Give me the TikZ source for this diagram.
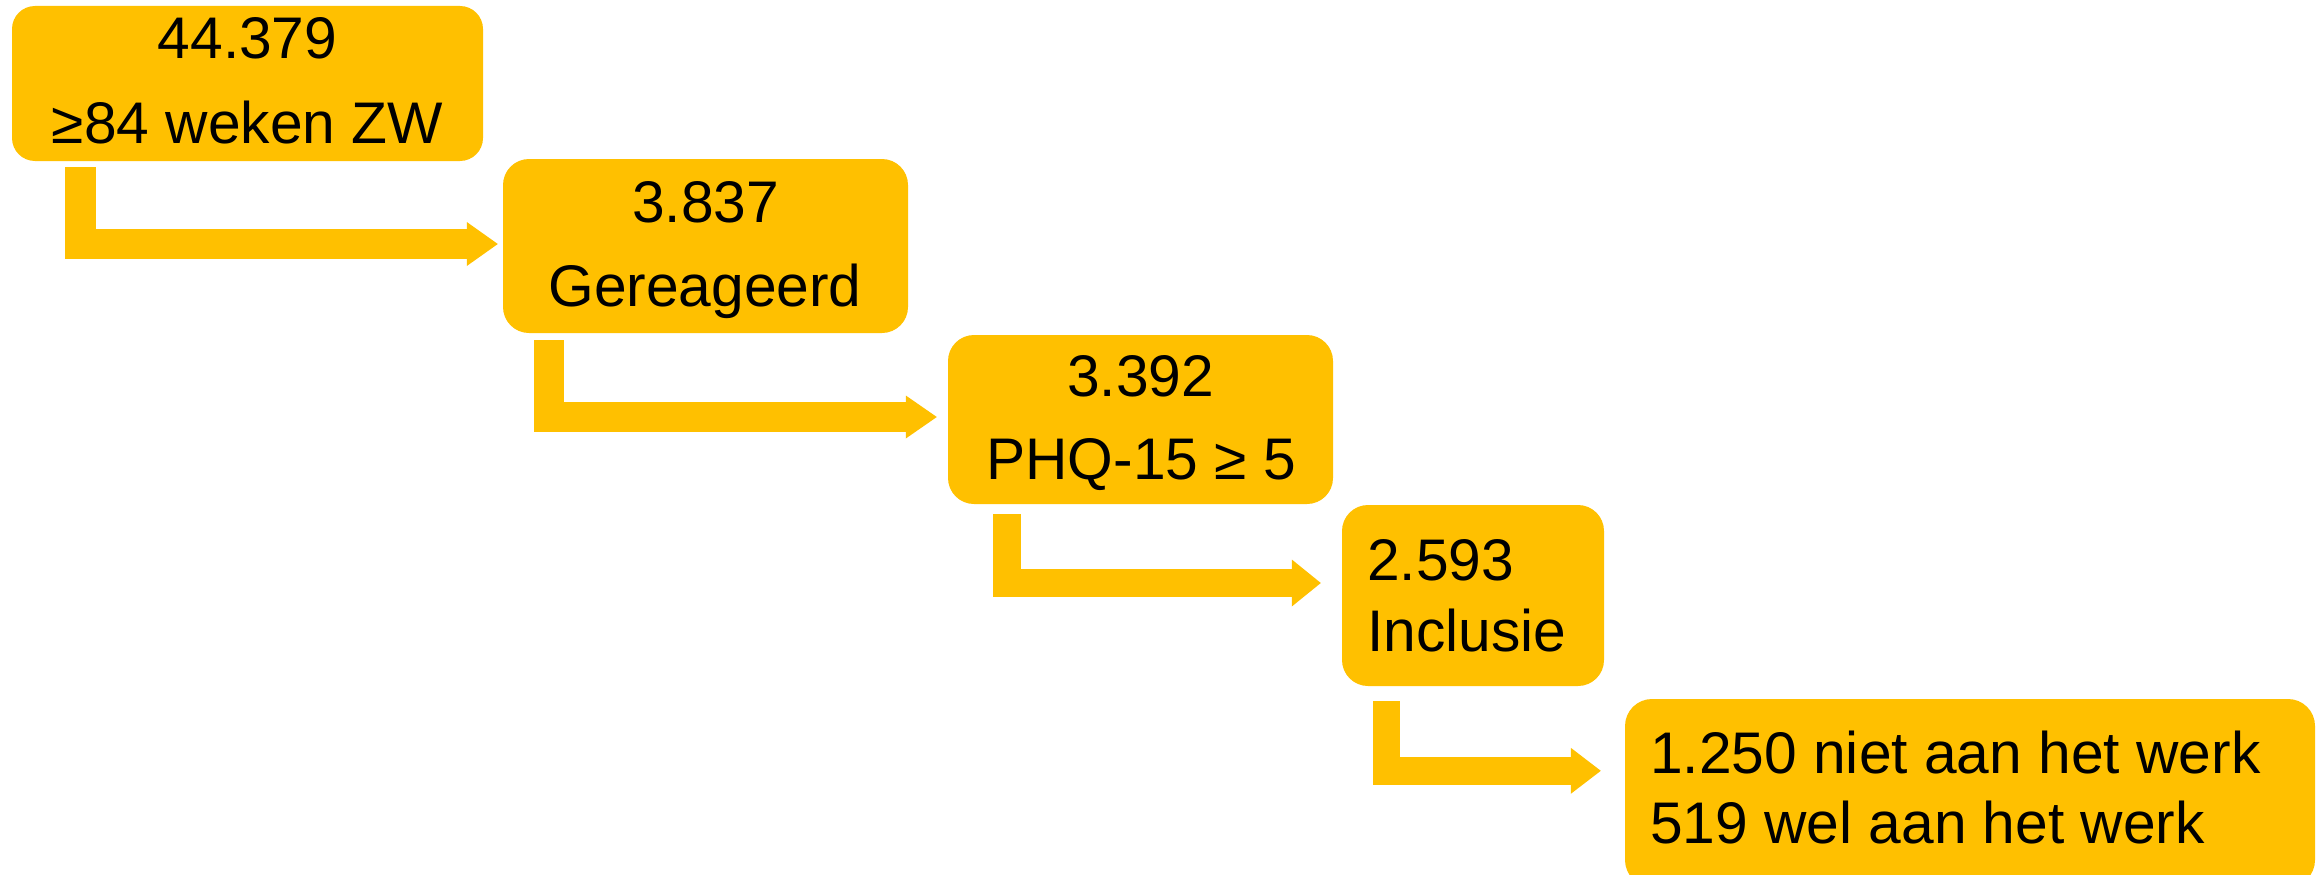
\documentclass[tikz,border=0pt]{standalone}
\usepackage{fontspec}
\setmainfont{Liberation Sans}
\usetikzlibrary{arrows.meta}
\definecolor{gold}{HTML}{FFC000}
\begin{document}
\begin{tikzpicture}[x=1pt,y=-1pt,
  box/.style={fill=gold, draw=none, rounded corners=26pt, inner sep=0pt},
  txt/.style={inner sep=0pt, font=\fontsize{58.7}{70}\selectfont, text=black},
  flow/.style={draw=gold, line join=miter, line cap=butt}]
\useasboundingbox (0,0) rectangle (2320,875);
\clip (0,0) rectangle (2320,875);
% boxes
\node[box, rounded corners=23pt, minimum width=471pt, minimum height=155pt] (b1) at (247.5,83.5) {};
\node[box, minimum width=405pt, minimum height=174pt] (b2) at (705.5,246) {};
\node[box, minimum width=385pt, minimum height=169pt] (b3) at (1140.5,419.5) {};
\node[box, minimum width=262pt, minimum height=181pt] (b4) at (1473,595.5) {};
\node[box, rounded corners=27pt, minimum width=690pt, minimum height=188pt] (b5) at (1970,793) {};
% texts
\node[txt, anchor=base] (t1a) at (247.5,59) {44.379};
\node[txt, anchor=base] (t1b) at (247.5,143) {≥84 weken ZW};
\node[txt, anchor=base] (t2a) at (705.5,222) {3.837};
\node[txt, anchor=base] (t2b) at (705,306) {Gereageerd};
\node[txt, anchor=base] (t3a) at (1140.5,396) {3.392};
\node[txt, anchor=base] (t3b) at (1141,479) {PHQ-15 ≥ 5};
\node[txt, anchor=base west] (t4a) at (1367,580) {2.593};
\node[txt, anchor=base west] (t4b) at (1367,651) {Inclusie};
\node[txt, anchor=base west] (t5a) at (1650,773) {1.250 niet aan het werk};
\node[txt, anchor=base west] (t5b) at (1650,843) {519 wel aan het werk};
% bent arrows
\draw[flow, line width=30.5pt, -{Triangle[length=31pt,width=44pt,line width=0pt]}]
  ([xshift=68.5pt,yshift=-6pt]b1.south west) |- ([xshift=-5pt,yshift=2pt]b2.west);
\draw[flow, line width=30pt, -{Triangle[length=31pt,width=43pt,line width=0pt]}]
  ([xshift=46pt,yshift=-7pt]b2.south west) |- ([xshift=-11pt,yshift=2.5pt]b3.west);
\draw[flow, line width=28pt, -{Triangle[length=29pt,width=47pt,line width=0pt]}]
  ([xshift=59pt,yshift=-10pt]b3.south west) |- ([xshift=-21pt,yshift=12.5pt]b4.west);
\draw[flow, line width=27.5pt, -{Triangle[length=30pt,width=46pt,line width=0pt]}]
  ([xshift=44.5pt,yshift=-15pt]b4.south west) |- ([xshift=-24pt,yshift=-72pt]b5.north west);
\end{tikzpicture}
\end{document}
